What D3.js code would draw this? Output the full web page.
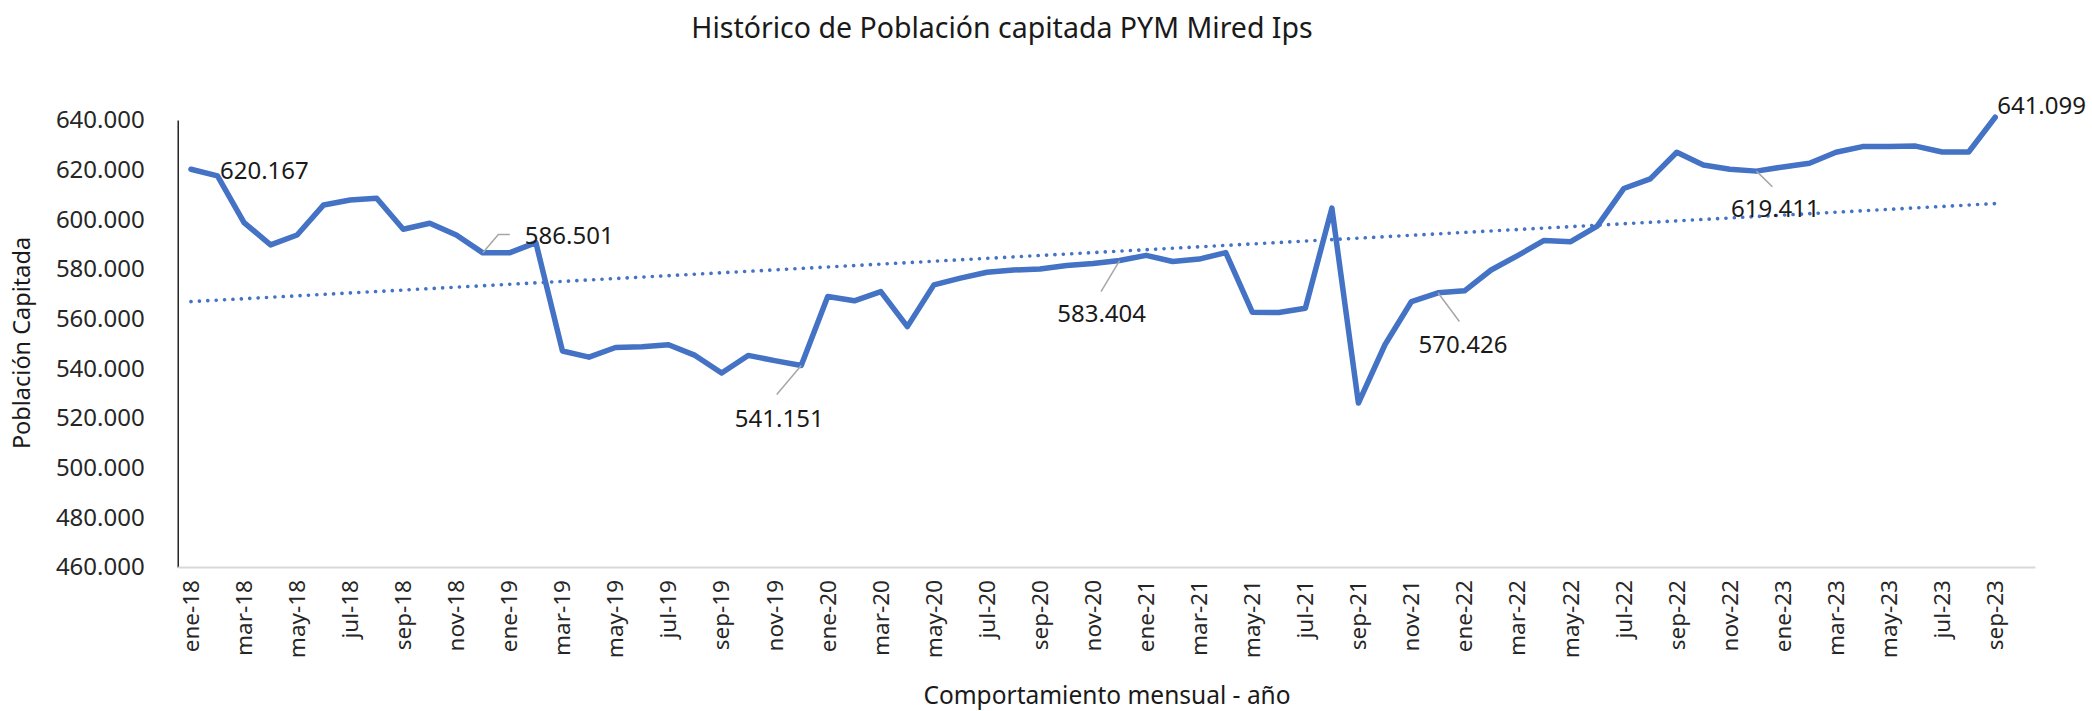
<!DOCTYPE html>
<html lang="es">
  <head>
    <meta charset="utf-8">
    <title>Histórico de Población capitada PYM Mired Ips</title>
    <script src="https://d3js.org/d3.v7.min.js"></script>
    <style>
      body { margin: 0; background: #fff; }
    </style>
  </head>
  <body>
    <script>
    // meses (el ultimo, oct-23, queda vacio como en el grafico original)
    var categorias = [
      "ene-18","feb-18","mar-18","abr-18","may-18","jun-18","jul-18","ago-18","sep-18","oct-18","nov-18","dic-18",
      "ene-19","feb-19","mar-19","abr-19","may-19","jun-19","jul-19","ago-19","sep-19","oct-19","nov-19","dic-19",
      "ene-20","feb-20","mar-20","abr-20","may-20","jun-20","jul-20","ago-20","sep-20","oct-20","nov-20","dic-20",
      "ene-21","feb-21","mar-21","abr-21","may-21","jun-21","jul-21","ago-21","sep-21","oct-21","nov-21","dic-21",
      "ene-22","feb-22","mar-22","abr-22","may-22","jun-22","jul-22","ago-22","sep-22","oct-22","nov-22","dic-22",
      "ene-23","feb-23","mar-23","abr-23","may-23","jun-23","jul-23","ago-23","sep-23","oct-23"
    ];
    var poblacion = [
      620167, 617500, 598700, 589700, 593700, 605800, 607800, 608500, 596000, 598400, 593700, 586501,
      586500, 590600, 547000, 544500, 548400, 548700, 549500, 545200, 538100, 545200, 543100, 541151,
      568900, 567200, 570900, 556800, 573600, 576300, 578700, 579600, 580000, 581400, 582200, 583404,
      585500, 583000, 584000, 586600, 562600, 562500, 564200, 604500, 526000, 549500, 566900, 570426,
      571200, 579600, 585400, 591500, 591000, 597300, 612400, 616300, 627000, 621900, 620200, 619411,
      621100, 622600, 627000, 629300, 629300, 629500, 627100, 627100, 641099
    ];
    var ticksY = [460000, 480000, 500000, 520000, 540000, 560000, 580000, 600000, 620000, 640000];
    // puntos con etiqueta de datos
    var etiquetados = [0, 11, 23, 35, 47, 59, 68];

    var w = 2092;
    var h = 711;
    var fuente = "'Noto Sans', 'Open Sans', sans-serif";
    var azul = "#4472C4";

    var svg = d3.select("body").append("svg").attr("width", w).attr("height", h);

    var x = d3.scaleBand().domain(categorias).range([177.7, 2035]);
    var y = d3.scaleLinear().domain([460000, 640000]).range([567, 120]);
    var cx = function(i) { return x(categorias[i]) + x.bandwidth() / 2; };

    var loc = d3.formatLocale({decimal: ",", thousands: ".", grouping: [3], currency: ["$", ""]});
    var fmt = loc.format(",d");

    // eje Y
    var gy = svg.append("g")
      .attr("transform", "translate(177.7,0)")
      .call(d3.axisLeft(y).tickValues(ticksY).tickFormat(fmt).tickSize(0).tickPadding(33));
    gy.attr("font-family", fuente).attr("font-size", 24);
    gy.select(".domain").attr("stroke", "#000").attr("stroke-width", 1.3);
    gy.selectAll("text").attr("fill", "#262626");

    // eje X, una etiqueta cada dos meses
    var gx = svg.append("g")
      .attr("transform", "translate(0,567)")
      .call(d3.axisBottom(x).tickValues(categorias.filter(function(d, i) { return i % 2 == 0; })).tickSize(0));
    gx.attr("font-family", fuente).attr("font-size", 22.5);
    gx.select(".domain").attr("stroke", "#d9d9d9").attr("stroke-width", 2);
    gx.selectAll("text")
      .attr("fill", "#262626")
      .attr("transform", "rotate(-90)")
      .attr("text-anchor", "end")
      .attr("x", -13)
      .attr("y", 0)
      .attr("dy", "0.35em");

    // serie
    var linea = d3.line()
      .x(function(d, i) { return cx(i); })
      .y(function(d) { return y(d); });
    svg.append("path")
      .datum(poblacion)
      .attr("d", linea)
      .attr("fill", "none")
      .attr("stroke", azul)
      .attr("stroke-width", 5.5)
      .attr("stroke-linejoin", "round")
      .attr("stroke-linecap", "round");

    // linea de tendencia (minimos cuadrados)
    var n = poblacion.length;
    var mx = d3.mean(poblacion, function(d, i) { return i; });
    var my = d3.mean(poblacion);
    var sxy = 0, sxx = 0;
    poblacion.forEach(function(d, i) { sxy += (i - mx) * (d - my); sxx += (i - mx) * (i - mx); });
    var b = sxy / sxx;
    var a = my - b * mx;
    svg.append("line")
      .attr("x1", cx(0)).attr("y1", y(a))
      .attr("x2", cx(n - 1)).attr("y2", y(a + b * (n - 1)))
      .attr("stroke", azul)
      .attr("stroke-width", 3.6)
      .attr("stroke-linecap", "round")
      .attr("stroke-dasharray", "0.1 8.3");

    // etiquetas de datos: desplazamiento del texto y punta de la guia
    var pos = {
      0:  {dx: 29, dy: 1, anchor: "start"},
      11: {dx: 42, dy: -17, anchor: "start", guia: [[15.5, -18.4], [27, -18.4]]},
      23: {dx: -22, dy: 53, anchor: "middle", guia: [[-24.5, 29]]},
      35: {dx: -18, dy: 53, anchor: "middle", guia: [[-18.6, 31]]},
      47: {dx: 25, dy: 52, anchor: "middle", guia: [[21.4, 28.7]]},
      59: {dx: 19, dy: 37, anchor: "middle", guia: [[16, 15.7]]},
      68: {dx: 2, dy: -12, anchor: "start"}
    };
    etiquetados.forEach(function(i) {
      var px = cx(i), py = y(poblacion[i]), p = pos[i];
      if (p.guia) {
        var pts = [[px, py]].concat(p.guia.map(function(g) { return [px + g[0], py + g[1]]; }));
        svg.append("path")
          .attr("d", d3.line()(pts))
          .attr("fill", "none")
          .attr("stroke", "#a6a6a6")
          .attr("stroke-width", 1.5);
      }
      svg.append("text")
        .attr("x", px + p.dx)
        .attr("y", py + p.dy)
        .attr("dy", "0.35em")
        .attr("text-anchor", p.anchor)
        .attr("font-family", fuente)
        .attr("font-size", 24)
        .attr("fill", "#1a1a1a")
        .text(fmt(poblacion[i]));
    });

    // titulos
    svg.append("text")
      .attr("x", 1002).attr("y", 38)
      .attr("text-anchor", "middle")
      .attr("font-family", fuente).attr("font-size", 28.5).attr("fill", "#1a1a1a")
      .text("Histórico de Población capitada PYM Mired Ips");
    svg.append("text")
      .attr("transform", "translate(30,343) rotate(-90)")
      .attr("text-anchor", "middle")
      .attr("font-family", fuente).attr("font-size", 23.5).attr("fill", "#1a1a1a")
      .text("Población Capitada");
    svg.append("text")
      .attr("x", 1107).attr("y", 704)
      .attr("text-anchor", "middle")
      .attr("font-family", fuente).attr("font-size", 24.5).attr("fill", "#1a1a1a")
      .text("Comportamiento mensual - año");
    </script>
  </body>
</html>
